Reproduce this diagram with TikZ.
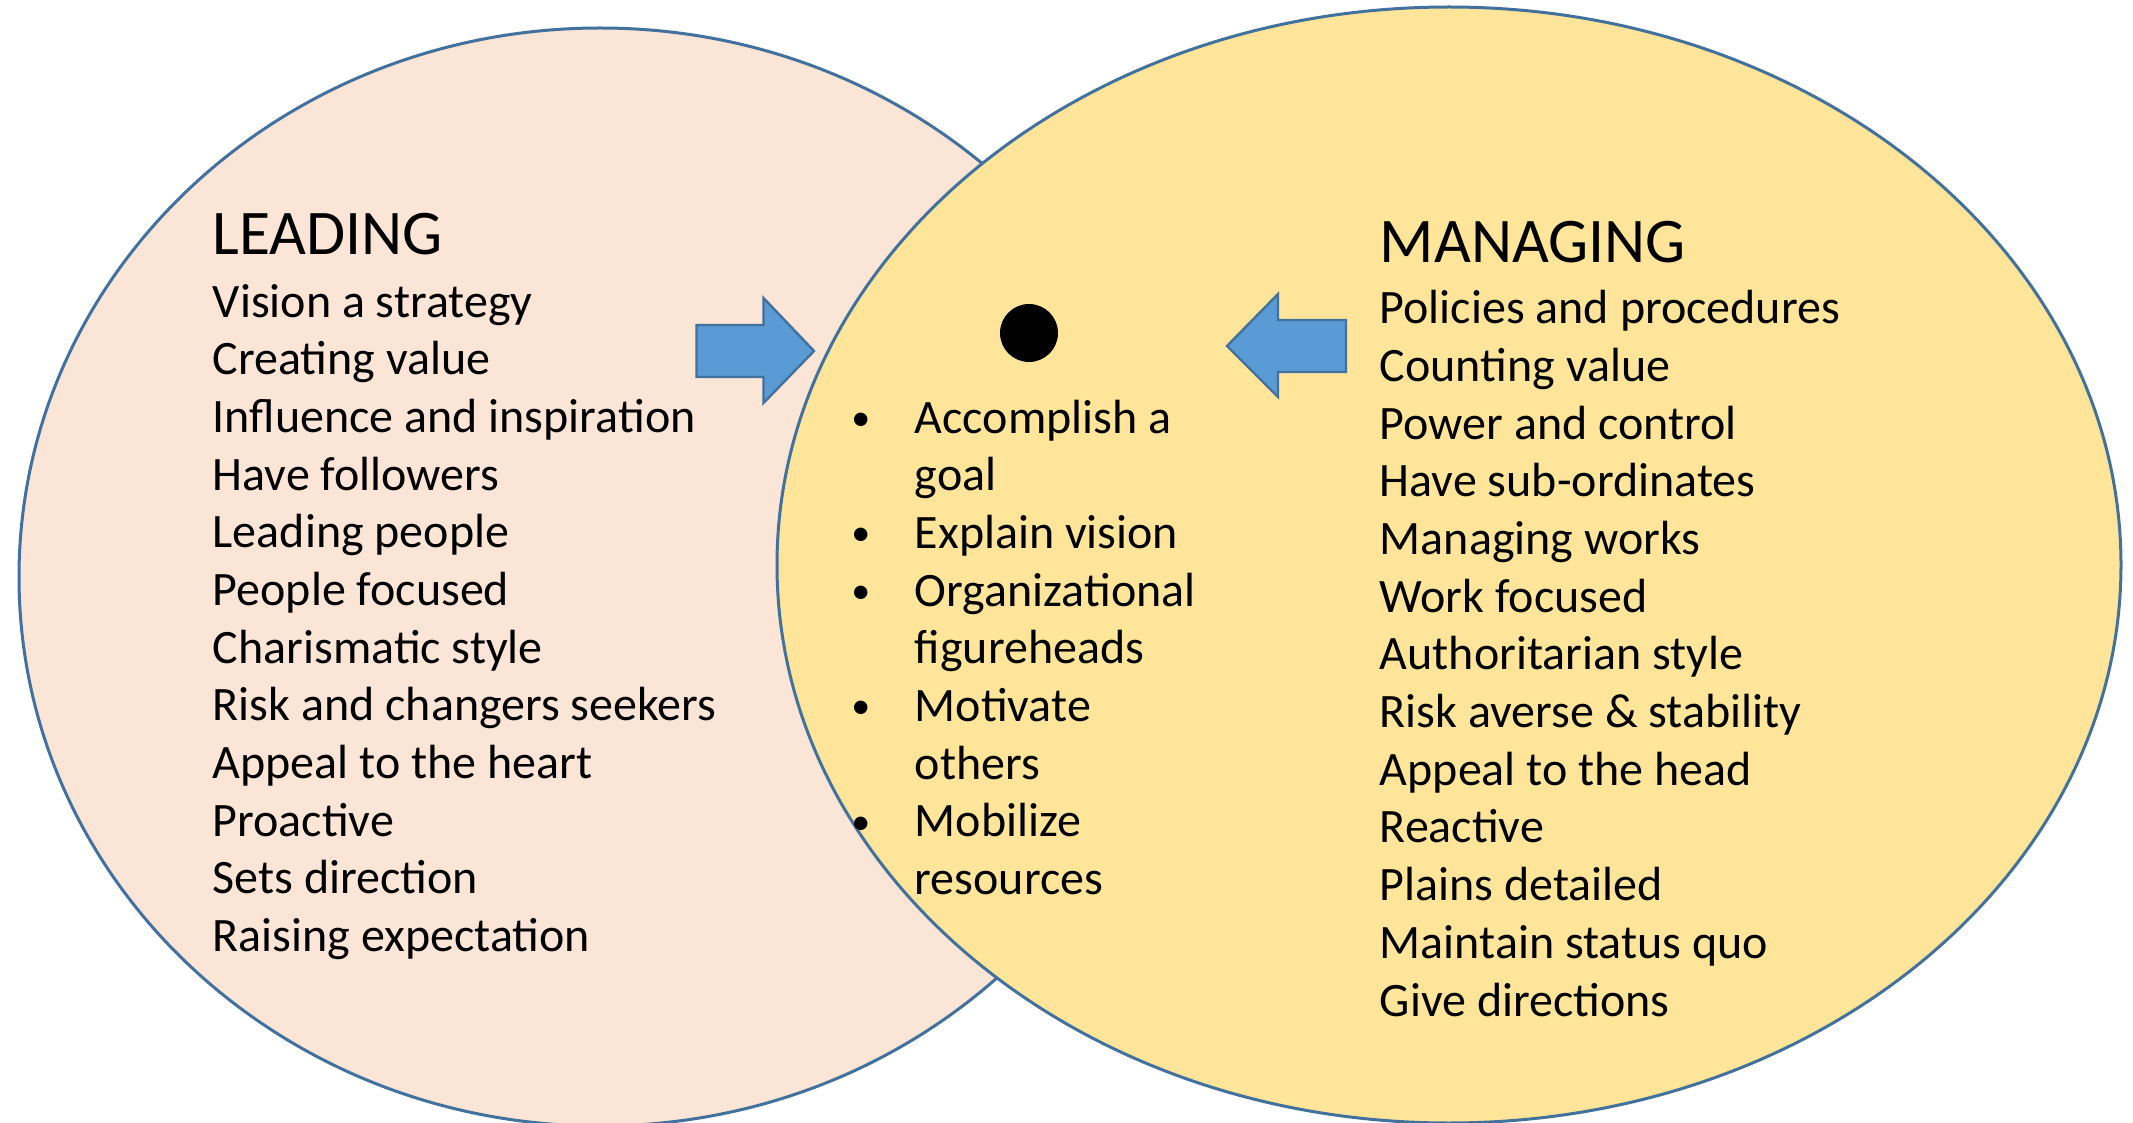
\documentclass[tikz,border=0pt]{standalone}
\usepackage{fontspec}
\setmainfont{Carlito}
\usetikzlibrary{shapes.geometric}

\definecolor{leadfill}{HTML}{FBE5D6}
\definecolor{managefill}{HTML}{FFE599}
\definecolor{rimblue}{HTML}{41719C}
\definecolor{arrowblue}{HTML}{5B9BD5}

% bullet and indent for the middle list
\newcommand{\bul}{\makebox[0pt]{\raisebox{0.7pt}{\fontsize{9.5}{10}\selectfont\textbullet}}\hspace{13.5pt}}
\newcommand{\cont}{\hspace*{13.5pt}}

\begin{document}
\begin{tikzpicture}[x=0.25pt,y=-0.25pt]
        \tikzstyle{leadcircle}=[ellipse,draw=rimblue,line width=0.75pt,fill=leadfill,inner sep=0pt,minimum width=290.5pt,minimum height=274.5pt]
        \tikzstyle{managecircle}=[ellipse,draw=rimblue,line width=0.75pt,fill=managefill,inner sep=0pt,minimum width=336pt,minimum height=279pt]
        \tikzstyle{heading}=[anchor=base west,inner sep=0pt,font=\fontsize{15.9}{19}\selectfont]
        % lists are placed by the baseline of their last line
        \tikzstyle{items}=[anchor=base west,inner sep=0pt,align=left,font=\fontsize{12}{14.42}\selectfont]
        \tikzstyle{blockarrow}=[draw=rimblue,line width=0.6pt,fill=arrowblue,line join=miter]

       \useasboundingbox (0,0) rectangle (2133,1123);

       \begin{scope}

         \node [leadcircle] (leading) at (600,577) {};
         \node [managecircle] (managing) at (1449,565) {};

         \node [heading] (leadtitle) at (212,255) {LEADING};
         \node [items] (leadlist) at (212,951.5) {Vision a strategy\\Creating value\\Influence and inspiration\\Have followers\\Leading people\\People focused\\Charismatic style\\Risk and changers seekers\\Appeal to the heart\\Proactive\\Sets direction\\Raising expectation};

         \node [heading] (managetitle) at (1379,263) {MANAGING};
         \node [items] (managelist) at (1379,1016) {Policies and procedures\\Counting value\\Power and control\\Have sub-ordinates\\Managing works\\Work focused\\Authoritarian style\\Risk averse \& stability\\Appeal to the head\\Reactive\\Plains detailed\\Maintain status quo\\Give directions};

         \node [circle,fill=black,inner sep=0pt,minimum size=14.5pt] (dot) at (1029,333) {};
         \node [items] (sharedlist) at (860,894.5) {\bul Accomplish a\\\cont goal\\\bul Explain vision\\\bul Organizational\\\cont figureheads\\\bul Motivate\\\cont others\\\bul Mobilize\\\cont resources};

         \draw [blockarrow] (696.5,325) -- (763.5,325) -- (763.5,298) -- (814,351) -- (763.5,403) -- (763.5,377) -- (696.5,377) -- cycle;
         \draw [blockarrow] (1346,320) -- (1278,320) -- (1278,294) -- (1227,346) -- (1278,397) -- (1278,372) -- (1346,372) -- cycle;

        \end{scope}
\end{tikzpicture}
\end{document}
